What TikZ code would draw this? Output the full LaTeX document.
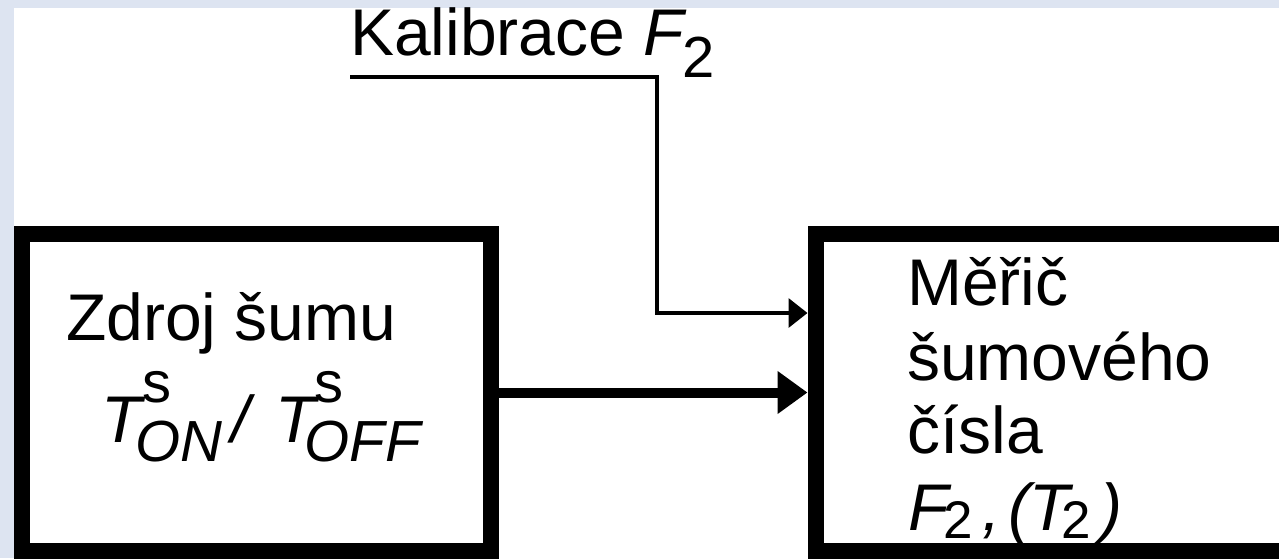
\documentclass[tikz,border=0pt]{standalone}
\usepackage{fontspec}
\setmainfont{Liberation Sans}
\usetikzlibrary{arrows.meta}
\definecolor{bgblue}{RGB}{221,228,241}
\newcommand\pc[3]{\makebox[0pt][l]{\hspace*{#1pt}\raisebox{#2pt}{#3}}}
\begin{document}
\begin{tikzpicture}[x=1pt,y=-1pt,
  big/.style={font=\fontsize{66}{75}\selectfont, inner sep=0pt, anchor=base west},
  blk/.style={draw=black, line width=16pt, inner sep=0pt, minimum height=317pt},
  thin/.style={line width=3.5pt, -{Triangle[length=19pt,width=29pt]}},
  thick/.style={line width=10pt, -{Triangle[length=30pt,width=41pt]}}]
\useasboundingbox (0,0) rectangle (1279,558);
\fill[bgblue] (0,0) rectangle (1279,558);
\fill[white] (14,8) rectangle (1279,558);
\clip (0,0) rectangle (1279,558);
% texts
\node[big] (kal) at (350,55) {Kalibrace \textit{F}\kern-5pt\raisebox{-22pt}{\fontsize{58}{58}\selectfont 2}};
\node[big] (zdroj) at (66,340) {Zdroj šumu};
\node[big] (tlab) at (101,442) {\pc{0}{0}{\itshape T}\pc{41}{40}{\fontsize{58}{58}\selectfont s}\pc{34}{-19}{\fontsize{58}{58}\selectfont\itshape ON}\pc{130}{0}{\itshape /}\pc{174}{0}{\itshape T}\pc{213}{40}{\fontsize{58}{58}\selectfont s}\pc{203}{-19}{\fontsize{58}{58}\selectfont\itshape OFF}};
\node[big] (m1) at (907,305) {Měřič};
\node[big] (m2) at (907,380) {šumového};
\node[big] (m3) at (907,453) {čísla};
\node[big] (m4) at (908,530) {\pc{0}{0}{\itshape F}\pc{35}{-8}{\fontsize{53}{53}\selectfont 2}\pc{74}{0}{\itshape ,}\pc{100}{0}{\itshape (}\pc{121}{0}{\itshape T}\pc{153}{-8}{\fontsize{53}{53}\selectfont 2}\pc{192}{0}{\itshape )}};
% blocks
\node[blk, minimum width=469pt] (src) at (256.5,392.5) {};
\node[blk, minimum width=500pt] (meter) at (1065.5,392.5) {};
% connectors
\coordinate (cal) at (350,77);
\coordinate (bend) at (657,313);
\draw[thin] (cal) -| (bend) -- (bend -| meter.west);
\draw[thick] (src.east) -- (meter.west);
\end{tikzpicture}
\end{document}
